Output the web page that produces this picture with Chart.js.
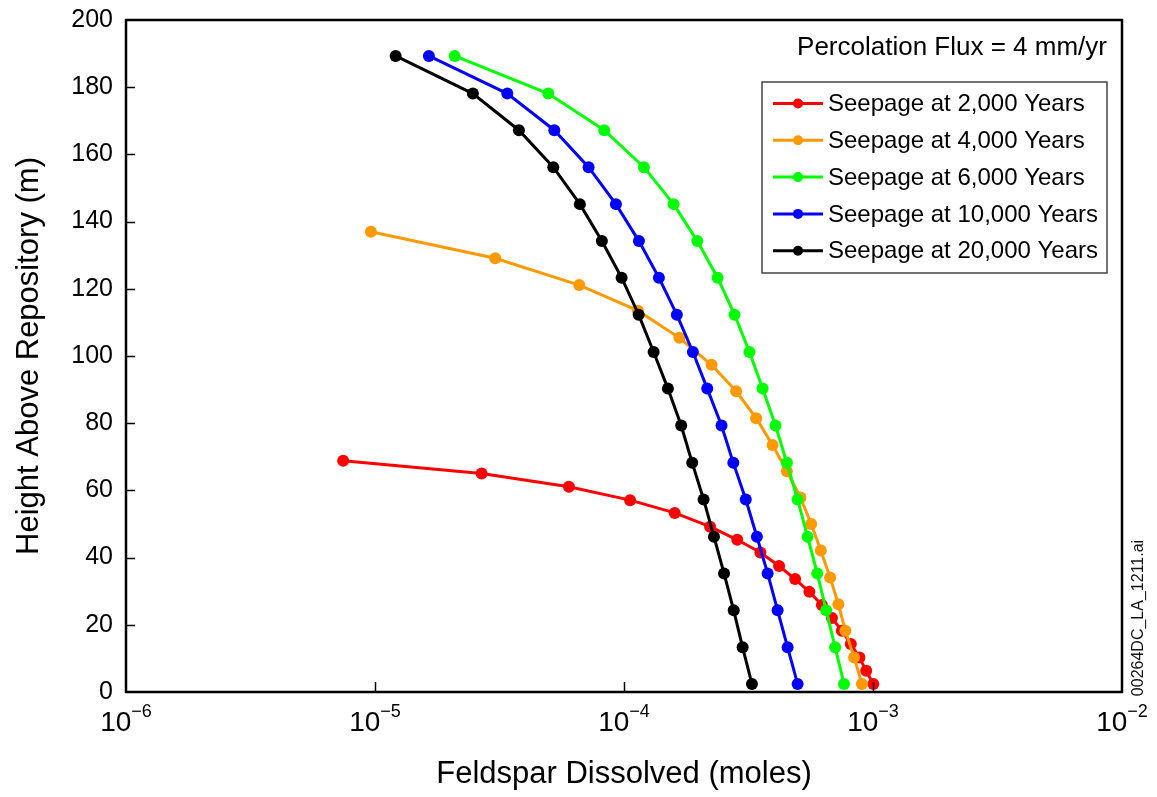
<!DOCTYPE html>
<html>
<head>
<meta charset="utf-8">
<script src="https://cdn.jsdelivr.net/npm/chart.js@4.4.1/dist/chart.umd.min.js"></script>
<style>
  html, body { margin: 0; padding: 0; background: #fff; }
  #wrap { width: 1157px; height: 797px; }
</style>
</head>
<body>
<div id="wrap"><canvas id="c" width="1157" height="797"></canvas></div>
<script>
// ---------------- DATA ----------------
const seriesLabels = ['Seepage at 2,000 Years', 'Seepage at 4,000 Years', 'Seepage at 6,000 Years', 'Seepage at 10,000 Years', 'Seepage at 20,000 Years'];
const seriesColors = ['#ff0000', '#ff9900', '#00ff00', '#0000ff', '#000000'];

const height2000 = [68.8, 65.0, 61.1, 57.1, 53.3, 49.2, 45.3, 41.5, 37.5, 33.6, 29.8, 25.9, 22.0, 18.2, 14.3, 10.3, 6.3, 2.4];
const feldspar2000 = [7.45e-6, 2.68e-5, 6.01e-5, 1.058e-4, 1.598e-4, 2.217e-4, 2.85e-4, 3.53e-4, 4.195e-4, 4.866e-4, 5.554e-4, 6.233e-4, 6.84e-4, 7.50e-4, 8.147e-4, 8.82e-4, 9.39e-4, 1.003e-3];

const height4000 = [137.0, 129.1, 121.1, 113.5, 105.4, 97.4, 89.5, 81.5, 73.5, 65.7, 57.9, 50.0, 42.1, 34.1, 26.1, 18.2, 10.3, 2.4];
const feldspar4000 = [9.63e-6, 3.04e-5, 6.61e-5, 1.137e-4, 1.669e-4, 2.246e-4, 2.821e-4, 3.395e-4, 3.951e-4, 4.51e-4, 5.113e-4, 5.646e-4, 6.172e-4, 6.726e-4, 7.26e-4, 7.75e-4, 8.395e-4, 9.03e-4];

const height6000 = [189.3, 178.1, 167.2, 156.2, 145.2, 134.2, 123.3, 112.3, 101.2, 90.3, 79.3, 68.2, 57.3, 46.2, 35.3, 24.3, 13.3, 2.4];
const feldspar6000 = [2.089e-5, 4.966e-5, 8.334e-5, 1.202e-4, 1.582e-4, 1.970e-4, 2.376e-4, 2.78e-4, 3.19e-4, 3.603e-4, 4.058e-4, 4.51e-4, 4.98e-4, 5.462e-4, 5.972e-4, 6.486e-4, 7.047e-4, 7.65e-4];

const height10000 = [189.3, 178.1, 167.2, 156.2, 145.2, 134.2, 123.3, 112.3, 101.2, 90.3, 79.3, 68.2, 57.3, 46.2, 35.3, 24.3, 13.3, 2.4];
const feldspar10000 = [1.646e-5, 3.399e-5, 5.25e-5, 7.207e-5, 9.28e-5, 1.148e-4, 1.381e-4, 1.63e-4, 1.891e-4, 2.159e-4, 2.464e-4, 2.748e-4, 3.084e-4, 3.418e-4, 3.774e-4, 4.139e-4, 4.54e-4, 4.98e-4];

const height20000 = [189.3, 178.1, 167.2, 156.2, 145.2, 134.2, 123.3, 112.3, 101.2, 90.3, 79.3, 68.2, 57.3, 46.2, 35.3, 24.3, 13.3, 2.4];
const feldspar20000 = [1.21e-5, 2.472e-5, 3.784e-5, 5.2e-5, 6.65e-5, 8.15e-5, 9.78e-5, 1.145e-4, 1.315e-4, 1.501e-4, 1.697e-4, 1.879e-4, 2.088e-4, 2.298e-4, 2.522e-4, 2.758e-4, 2.995e-4, 3.264e-4];

const yTicks = [0, 20, 40, 60, 80, 100, 120, 140, 160, 180, 200];
const xTickValues = [1e-6, 1e-5, 1e-4, 1e-3, 1e-2];
const xTickBase = '10';
const xTickExponents = ['\u22126', '\u22125', '\u22124', '\u22123', '\u22122'];

const xTitle = 'Feldspar Dissolved (moles)';
const yTitle = 'Height Above Repository (m)';
const annotationText = 'Percolation Flux = 4 mm/yr';
const fileTag = '00264DC_LA_1211.ai';

// ---------------- BUILD ----------------
const FONT = "'Liberation Sans', Arial, Helvetica, sans-serif";
const xs = [feldspar2000, feldspar4000, feldspar6000, feldspar10000, feldspar20000];
const ys = [height2000, height4000, height6000, height10000, height20000];

const datasets = seriesLabels.map((lab, i) => ({
  label: lab,
  data: xs[i].map((v, k) => ({ x: v, y: ys[i][k] })),
  borderColor: seriesColors[i],
  backgroundColor: seriesColors[i],
  pointBackgroundColor: seriesColors[i],
  pointBorderWidth: 0,
  pointRadius: 6,
  borderWidth: 3,
  showLine: true,
  tension: 0,
  order: seriesLabels.length - i
}));

const decor = {
  id: 'decor',
  afterDraw(chart) {
    const { ctx, chartArea: a, scales: { x, y } } = chart;
    ctx.save();
    // inner ticks
    ctx.strokeStyle = '#000';
    ctx.lineWidth = 1.5;
    yTicks.forEach(v => {
      if (v <= y.min || v >= y.max) return;
      const py = Math.round(y.getPixelForValue(v)) + 0.5;
      ctx.beginPath(); ctx.moveTo(a.left, py); ctx.lineTo(a.left + 9, py); ctx.stroke();
    });
    xTickValues.forEach(v => {
      if (v <= x.min || v >= x.max) return;
      const px = Math.round(x.getPixelForValue(v)) + 0.5;
      ctx.beginPath(); ctx.moveTo(px, a.bottom); ctx.lineTo(px, a.bottom - 10); ctx.stroke();
    });
    // frame
    ctx.lineWidth = 2.5;
    ctx.strokeRect(a.left, a.top, a.right - a.left, a.bottom - a.top);

    // x tick labels with superscripts
    ctx.fillStyle = '#000';
    ctx.textBaseline = 'alphabetic';
    xTickValues.forEach((v, i) => {
      const px = x.getPixelForValue(v);
      ctx.font = '28px ' + FONT;
      const wb = ctx.measureText(xTickBase).width;
      ctx.font = '18px ' + FONT;
      const we = ctx.measureText(xTickExponents[i]).width;
      const start = px - (wb + we) / 2;
      ctx.font = '28px ' + FONT;
      ctx.textAlign = 'left';
      ctx.fillText(xTickBase, start, 731);
      ctx.font = '18px ' + FONT;
      ctx.fillText(xTickExponents[i], start + wb, 717);
    });

    // annotation
    ctx.font = '26px ' + FONT;
    ctx.textAlign = 'right';
    ctx.textBaseline = 'middle';
    ctx.fillText(annotationText, 1107, 48);

    // legend
    const lx = 762, ly = 82, lw = 345, lh = 191;
    ctx.fillStyle = '#fff';
    ctx.fillRect(lx, ly, lw, lh);
    ctx.strokeStyle = '#444';
    ctx.lineWidth = 1.5;
    ctx.strokeRect(lx, ly, lw, lh);
    chart.data.datasets.forEach((ds, i) => {
      const cy = 103.5 + i * 36.8;
      ctx.strokeStyle = ds.borderColor;
      ctx.lineWidth = 3;
      ctx.beginPath(); ctx.moveTo(lx + 11, cy); ctx.lineTo(lx + 61, cy); ctx.stroke();
      ctx.fillStyle = ds.borderColor;
      ctx.beginPath(); ctx.arc(lx + 36, cy, 5, 0, Math.PI * 2); ctx.fill();
      ctx.fillStyle = '#000';
      ctx.font = '24px ' + FONT;
      ctx.textAlign = 'left';
      ctx.textBaseline = 'middle';
      ctx.fillText(ds.label, lx + 66, cy + 1);
    });

    // file tag
    ctx.save();
    ctx.translate(1139, 618);
    ctx.rotate(-Math.PI / 2);
    ctx.font = '16px ' + FONT;
    ctx.fillStyle = '#111';
    ctx.textAlign = 'center';
    ctx.textBaseline = 'middle';
    ctx.fillText(fileTag, 0, 0);
    ctx.restore();

    ctx.restore();
  }
};

new Chart(document.getElementById('c'), {
  type: 'scatter',
  data: { datasets },
  options: {
    responsive: false,
    animation: false,
    devicePixelRatio: 1,
    layout: { padding: { left: 0, right: 35, top: 20, bottom: 0 } },
    plugins: { legend: { display: false }, tooltip: { enabled: false } },
    scales: {
      x: {
        type: 'logarithmic',
        min: xTickValues[0],
        max: xTickValues[xTickValues.length - 1],
        grid: { display: false, drawTicks: false },
        border: { display: false },
        ticks: { display: false },
        afterFit(s) { s.height = 105; s.paddingLeft = 0; s.paddingRight = 0; },
        title: {
          display: true, text: xTitle, color: '#000',
          font: { family: FONT, size: 31 },
          padding: { top: 0, bottom: 4 }
        }
      },
      y: {
        type: 'linear',
        min: yTicks[0],
        max: yTicks[yTicks.length - 1],
        afterBuildTicks(s) { s.ticks = yTicks.map(v => ({ value: v })); },
        grid: { display: false, drawTicks: false },
        border: { display: false },
        ticks: {
          color: '#000', padding: 13,
          font: { family: FONT, size: 25 },
          callback: v => String(v)
        },
        afterFit(s) { s.width = 126; s.paddingTop = 0; s.paddingBottom = 0; },
        title: {
          display: true, text: yTitle, color: '#000',
          font: { family: FONT, size: 31 },
          padding: { top: 11, bottom: 0 }
        }
      }
    }
  },
  plugins: [decor]
});
</script>
</body>
</html>
